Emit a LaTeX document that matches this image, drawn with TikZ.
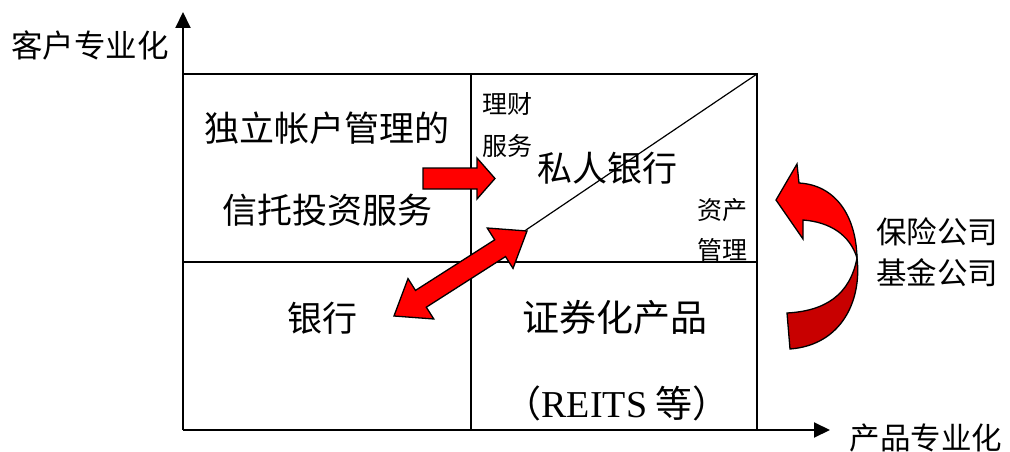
\documentclass[tikz,border=0pt]{standalone}
\usepackage{fontspec}
\setmainfont{Liberation Serif}
\newfontfamily\cjk{Noto Sans CJK SC}
\usetikzlibrary{arrows.meta}
\definecolor{arrred}{HTML}{FF0000}
\definecolor{darkred}{HTML}{C80000}
\tikzset{
  big/.style={font=\cjk\fontsize{35}{40}\selectfont, inner sep=0pt},
  bigger/.style={font=\cjk\fontsize{37}{42}\selectfont, inner sep=0pt},
  small/.style={font=\cjk\fontsize{25}{29}\selectfont, inner sep=0pt},
  mid/.style={font=\cjk\fontsize{31.5}{35}\selectfont, inner sep=0pt},
  frame/.style={line width=1.8pt, black},
  axis/.style={line width=2pt, black, -{Triangle[length=16pt,width=15pt]}},
  fat/.style={fill=arrred, draw=black, line width=1.3pt, line join=miter},
}
\begin{document}
\begin{tikzpicture}[x=1pt,y=-1pt]
\useasboundingbox (0,0) rectangle (1010,452);
% frame
\coordinate (o) at (183,430);
\coordinate (ytop) at (183,12);
\coordinate (xend) at (830,430);
\coordinate (tl) at (183,74);
\coordinate (tr) at (757,74);
\coordinate (br) at (757,430);
\coordinate (ml) at (183,262);
\coordinate (mr) at (757,262);
\coordinate (mt) at (471,74);
\coordinate (mb) at (471,430);
\coordinate (dstart) at (523,232);
\draw[frame] (tl) -- (tr) -- (br);
\draw[frame] (ml) -- (mr);
\draw[frame] (mt) -- (mb);
\draw[axis] (o) -- (ytop);
\draw[axis] (o) -- (xend);
\draw[line width=1.2pt] (dstart) -- (tr);
% labels
\node[mid] (ylab) at (90,45) {客户专业化};
\node[mid, font=\cjk\fontsize{30.5}{34}\selectfont] (xlab) at (926,438) {产品专业化};
\node[big] (t1) at (327,128) {独立帐户管理的};
\node[big] (t2) at (327,210) {信托投资服务};
\node[small] (lc1) at (507,104) {理财};
\node[small] (lc2) at (507,146) {服务};
\node[big] (pb) at (607,168) {私人银行};
\node[small] (zc1) at (722,210) {资产};
\node[small] (zc2) at (722,250) {管理};
\node[big] (yh) at (322,318) {银行};
\node[bigger] (zq) at (615,318) {证券化产品};
\node[bigger] (reits) at (617,403) {（{\rmfamily\fontsize{38}{42}\selectfont REITS} 等）};
\node[mid, font=\cjk\fontsize{30.5}{34}\selectfont] (bx) at (937,232) {保险公司};
\node[mid, font=\cjk\fontsize{30.5}{34}\selectfont] (jj) at (937,273) {基金公司};
% right arrow
\draw[fat] (423,168) -- (477,168) -- (477,158) -- (495,178.5) -- (477,199) -- (477,189) -- (423,189) -- cycle;
% double arrow
\draw[fat] (394,316) -- (433.8,319.0) -- (426.3,307.2) -- (505.5,256.6) -- (513.0,268.4) -- (527,231)
  -- (487.2,228.0) -- (494.7,239.8) -- (415.5,290.4) -- (408.0,278.6) -- cycle;
% curved arrow
\draw[fill=darkred, draw=black, line width=1.3pt] (857,258) .. controls (862,300) and (842,345) .. (790,349)
  -- (787,313) .. controls (825,311) and (850,295) .. (857,258) -- cycle;
\draw[fat] (857,258) .. controls (856,215) and (835,185) .. (799,183) -- (797,164) -- (776,200)
  -- (803,239) -- (803,220) .. controls (830,222) and (850,235) .. (857,258) -- cycle;
\end{tikzpicture}
\end{document}
